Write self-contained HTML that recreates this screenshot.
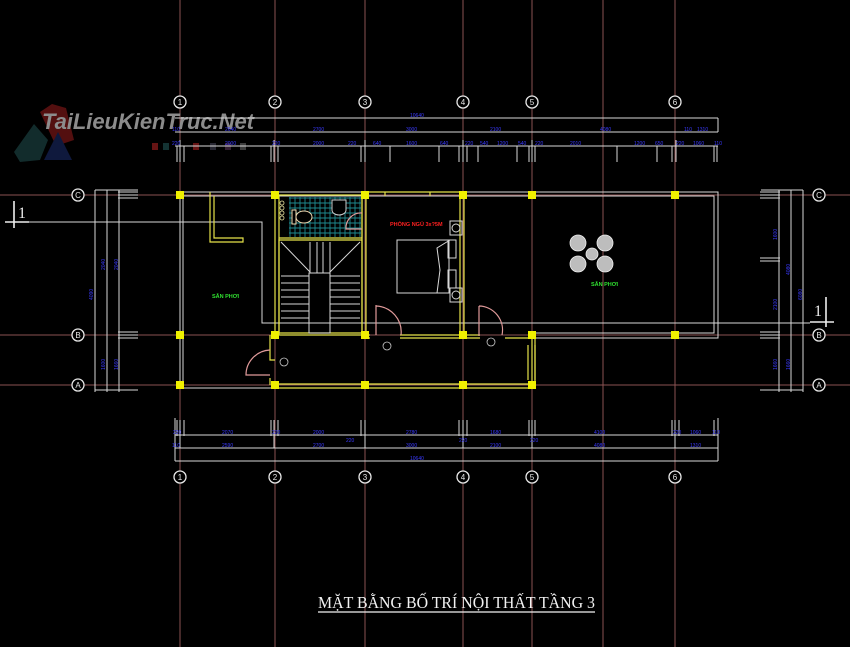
<!DOCTYPE html>
<html><head><meta charset="utf-8"><style>
html,body{margin:0;padding:0;background:#000;}
svg{display:block}
.g{stroke:#8a5252;stroke-width:1}
.w{stroke:#d8d8d8;stroke-width:1;fill:none}
.y{stroke:#e6e24a;stroke-width:1.2;fill:none}
.p{stroke:#e09a9a;stroke-width:1.2;fill:none}
.d{fill:#3a3aff;font-family:"Liberation Sans",sans-serif;font-size:5px}
.c{fill:#f0f000}
</style></head><body>
<svg width="850" height="647" viewBox="0 0 850 647" xmlns="http://www.w3.org/2000/svg">
<rect width="850" height="647" fill="#000"/>
<g class="g">
<line x1="180" y1="0" x2="180" y2="647"/><line x1="275" y1="0" x2="275" y2="647"/>
<line x1="365" y1="0" x2="365" y2="647"/><line x1="463" y1="0" x2="463" y2="647"/>
<line x1="532" y1="0" x2="532" y2="647"/><line x1="603" y1="0" x2="603" y2="647"/>
<line x1="675" y1="0" x2="675" y2="647"/>
<line x1="0" y1="195" x2="850" y2="195"/><line x1="0" y1="335" x2="850" y2="335"/>
<line x1="0" y1="385" x2="850" y2="385"/>
</g>
<g opacity="0.6">
<polygon points="40,112 52,104 66,108 74,140 56,146" fill="#8a1a1a"/>
<polygon points="14,152 34,124 48,140 40,160 20,162" fill="#1f4a4a"/>
<polygon points="44,160 58,132 72,160" fill="#1a2a66"/>
</g>
<text x="42" y="129" font-family="Liberation Sans,sans-serif" font-weight="bold" font-style="italic" font-size="22" fill="#8c8c8c" textLength="212">TaiLieuKienTruc.Net</text>
<g opacity="0.6"><rect x="152" y="143" width="6" height="7" fill="#a22"/><rect x="163" y="143" width="6" height="7" fill="#255"/><rect x="193" y="143" width="6" height="7" fill="#a22"/><rect x="210" y="143" width="6" height="7" fill="#445"/><rect x="225" y="143" width="6" height="7" fill="#535"/><rect x="240" y="143" width="6" height="7" fill="#666"/></g>
<g class="w">
<line x1="175" y1="118" x2="718" y2="118"/><line x1="718" y1="118" x2="718" y2="132"/>
<line x1="175" y1="132" x2="718" y2="132"/><line x1="175" y1="146" x2="718" y2="146"/>
<path d="M177 146v16M180 140v22M184 146v16M271 146v16M274 140v22M278 146v16M361 146v16M365 140v22M390 146v16M439 146v16M459 146v16M463 140v22M467 146v16M478 146v16M517 146v16M529 146v16M532 140v22M535 146v16M617 146v16M657 146v16M672 146v16M676 140v22M714 146v16M717 146v16"/>
</g>
<g class="d">
<text x="410" y="117">10640</text>
<text x="172" y="131">110</text><text x="225" y="131">2640</text><text x="313" y="131">2700</text><text x="406" y="131">3000</text><text x="490" y="131">2100</text><text x="600" y="131">4080</text><text x="684" y="131">110</text><text x="697" y="131">1310</text>
<text x="172" y="145">220</text><text x="225" y="145">2000</text><text x="272" y="145">220</text><text x="313" y="145">2000</text><text x="348" y="145">220</text><text x="373" y="145">640</text><text x="406" y="145">1600</text><text x="440" y="145">640</text><text x="465" y="145">220</text><text x="480" y="145">540</text><text x="497" y="145">1200</text><text x="518" y="145">540</text><text x="535" y="145">220</text><text x="570" y="145">2010</text><text x="634" y="145">1200</text><text x="655" y="145">650</text><text x="676" y="145">220</text><text x="693" y="145">1060</text><text x="714" y="145">110</text>
</g>
<g class="w">
<line x1="175" y1="435" x2="718" y2="435"/><line x1="175" y1="448" x2="718" y2="448"/><line x1="175" y1="461" x2="718" y2="461"/>
<line x1="175" y1="418" x2="175" y2="461"/><line x1="718" y1="418" x2="718" y2="461"/>
<path d="M177 420v16M180 420v28M184 420v16M271 420v16M274 420v28M278 420v16M361 420v16M365 420v28M459 420v16M463 420v28M467 420v16M529 420v16M532 420v28M535 420v16M672 420v16M675 420v28M679 420v16M714 420v16"/>
</g>
<g class="d">
<text x="173" y="434">220</text><text x="222" y="434">2070</text><text x="272" y="434">220</text><text x="313" y="434">2000</text><text x="406" y="434">2780</text><text x="490" y="434">1680</text><text x="594" y="434">4100</text><text x="673" y="434">220</text><text x="690" y="434">1060</text><text x="712" y="434">110</text>
<text x="346" y="442">220</text><text x="459" y="442">220</text><text x="530" y="442">220</text>
<text x="172" y="447">110</text><text x="222" y="447">2590</text><text x="313" y="447">2700</text><text x="406" y="447">3000</text><text x="490" y="447">2100</text><text x="594" y="447">4080</text><text x="690" y="447">1310</text>
<text x="410" y="460">10640</text>
</g>
<g class="w">
<line x1="95" y1="190" x2="95" y2="392"/><line x1="107" y1="190" x2="107" y2="392"/><line x1="119" y1="190" x2="119" y2="392"/>
<line x1="95" y1="190" x2="138" y2="190"/>
<path d="M118 192h20M118 195h20M118 198h20M118 332h20M118 335h20M118 338h20M95 390h43"/>
<line x1="761" y1="190" x2="803" y2="190"/><line x1="779" y1="190" x2="779" y2="392"/><line x1="791" y1="190" x2="791" y2="392"/><line x1="803" y1="190" x2="803" y2="392"/>
<path d="M760 192h20M760 195h20M760 198h20M760 258h20M760 261h20M760 332h20M760 335h20M760 338h20M760 390h43"/>
</g>
<g class="d">
<text transform="translate(105,270) rotate(-90)">2040</text><text transform="translate(118,270) rotate(-90)">2040</text><text transform="translate(93,300) rotate(-90)">4090</text>
<text transform="translate(105,370) rotate(-90)">1600</text><text transform="translate(118,370) rotate(-90)">1660</text>
<text transform="translate(777,240) rotate(-90)">1600</text><text transform="translate(777,310) rotate(-90)">2100</text><text transform="translate(790,275) rotate(-90)">4080</text><text transform="translate(802,300) rotate(-90)">6080</text>
<text transform="translate(777,370) rotate(-90)">1660</text><text transform="translate(790,370) rotate(-90)">1660</text>
</g>
<g fill="#000" stroke="#e8e8e8" stroke-width="1.3">
<circle cx="180" cy="102" r="6"/><circle cx="275" cy="102" r="6"/><circle cx="365" cy="102" r="6"/><circle cx="463" cy="102" r="6"/><circle cx="532" cy="102" r="6"/><circle cx="675" cy="102" r="6"/>
<circle cx="180" cy="477" r="6"/><circle cx="275" cy="477" r="6"/><circle cx="365" cy="477" r="6"/><circle cx="463" cy="477" r="6"/><circle cx="532" cy="477" r="6"/><circle cx="675" cy="477" r="6"/>
<circle cx="78" cy="195" r="6"/><circle cx="78" cy="335" r="6"/><circle cx="78" cy="385" r="6"/>
<circle cx="819" cy="195" r="6"/><circle cx="819" cy="335" r="6"/><circle cx="819" cy="385" r="6"/>
</g>
<g fill="#e8e8e8" font-family="Liberation Sans,sans-serif" font-size="8" text-anchor="middle">
<text x="180" y="105">1</text><text x="275" y="105">2</text><text x="365" y="105">3</text><text x="463" y="105">4</text><text x="532" y="105">5</text><text x="675" y="105">6</text>
<text x="180" y="480">1</text><text x="275" y="480">2</text><text x="365" y="480">3</text><text x="463" y="480">4</text><text x="532" y="480">5</text><text x="675" y="480">6</text>
<text x="78" y="198">C</text><text x="78" y="338">B</text><text x="78" y="388">A</text>
<text x="819" y="198">C</text><text x="819" y="338">B</text><text x="819" y="388">A</text>
</g>
<g stroke="#eee" stroke-width="1.6" fill="none">
<path d="M14 201v27M5 222h24"/><path d="M826 297v30M810 322h24"/>
</g>
<text x="18" y="218" fill="#eee" font-family="Liberation Serif,serif" font-size="16">1</text>
<text x="814" y="316" fill="#eee" font-family="Liberation Serif,serif" font-size="16">1</text>
<path d="M29 222H262V323H810" class="w"/>
<g class="w">
<path d="M180 192H718V338H532"/><path d="M180 196H714V333H532"/>
<path d="M180 192V388H275"/><path d="M183 196V385"/>
</g>
<g class="y">
<path d="M210 192V242H243V238H214V196"/>
<path d="M275 196V335M279 196V335"/>
<path d="M279 195H362V238H279"/><path d="M362 195V335M366 195V335"/>
<path d="M279 240H362V333H279z"/>
<path d="M366 192H463M385 192V196M430 192V196"/>
<path d="M460 196V335M464 196V335"/>
<path d="M275 335H370M400 335H463M366 338H370M400 338H480M505 338H532"/>
<path d="M275 384H532V335M275 388H535V335"/>
<path d="M464 335H480"/>
<path d="M270 335V360H275M270 385V378"/>
<path d="M528 345v35M535 345v35"/>
</g>
<g stroke="#1f8a90" stroke-width="0.9">
<path d="M289 198h72M289 203h72M289 208h72M289 213h72M289 218h72M289 223h72M289 228h72M289 233h72"/>
<path d="M290 197v40M295 197v40M300 197v40M305 197v40M310 197v40M315 197v40M320 197v40M325 197v40M330 197v40M335 197v40M340 197v40M345 197v40M350 197v40M355 197v40M360 197v40"/>
</g>
<g fill="none" stroke="#e8e2a0" stroke-width="0.8"><circle cx="282" cy="203" r="2"/><circle cx="282" cy="208" r="2"/><circle cx="282" cy="213" r="2"/><circle cx="282" cy="218" r="2"/></g>
<ellipse cx="304" cy="217" rx="8" ry="6" fill="#000" stroke="#f0d8b0"/><rect x="292" y="210" width="4" height="14" fill="#000" stroke="#f0d8b0"/>
<path d="M332 200h14v10a7 5 0 0 1 -14 0z" fill="#000" stroke="#ccc"/>
<g class="w">
<path d="M281 242L310 272M360 242L330 272M310 242V273M317 242V273M323 242V273M330 242V273"/>
<rect x="309" y="273" width="21" height="60"/>
<path d="M281 276h28M281 283h28M281 290h28M281 297h28M281 304h28M281 311h28M281 318h28M330 276h30M330 283h30M330 290h30M330 297h30M330 304h30M330 311h30M330 318h30"/>
</g>
<g class="p">
<path d="M362 213a15 15 0 0 0 -16 16h16"/>
<path d="M270 350a25 25 0 0 0 -24 25h24"/>
<path d="M376 305v30M376 306a26 26 0 0 1 25 29"/>
<path d="M479 306v30M479 306a24 24 0 0 1 23 29"/>
</g>
<g fill="none" stroke="#ccc" stroke-width="0.8"><circle cx="284" cy="362" r="4"/><circle cx="387" cy="346" r="4"/><circle cx="491" cy="342" r="4"/></g>
<g class="w">
<rect x="397" y="240" width="52" height="53"/><path d="M450 240l-13 8 3 22-3 23"/>
<rect x="450" y="221" width="12" height="14"/><rect x="450" y="288" width="12" height="14"/>
<rect x="448" y="240" width="8" height="18"/><rect x="448" y="270" width="8" height="18"/>
<circle cx="456" cy="228" r="4"/><circle cx="456" cy="295" r="4"/>
</g>
<text x="390" y="226" fill="#ff2020" font-family="Liberation Sans,sans-serif" font-size="5.5" font-weight="bold">PHÒNG NGỦ 3x?5M</text>
<g fill="#bdbdbd" stroke="#eee" stroke-width="0.8">
<circle cx="578" cy="243" r="8"/><circle cx="605" cy="243" r="8"/><circle cx="578" cy="264" r="8"/><circle cx="605" cy="264" r="8"/><circle cx="592" cy="254" r="6"/>
</g>
<g fill="#30e030" font-family="Liberation Sans,sans-serif" font-size="5.5" font-weight="bold">
<text x="591" y="286">SÂN PHƠI</text><text x="212" y="298">SÂN PHƠI</text>
</g>
<g class="c">
<rect x="176" y="191" width="8" height="8"/><rect x="271" y="191" width="8" height="8"/><rect x="361" y="191" width="8" height="8"/><rect x="459" y="191" width="8" height="8"/><rect x="528" y="191" width="8" height="8"/><rect x="671" y="191" width="8" height="8"/>
<rect x="176" y="331" width="8" height="8"/><rect x="271" y="331" width="8" height="8"/><rect x="361" y="331" width="8" height="8"/><rect x="459" y="331" width="8" height="8"/><rect x="528" y="331" width="8" height="8"/><rect x="671" y="331" width="8" height="8"/>
<rect x="176" y="381" width="8" height="8"/><rect x="271" y="381" width="8" height="8"/><rect x="361" y="381" width="8" height="8"/><rect x="459" y="381" width="8" height="8"/><rect x="528" y="381" width="8" height="8"/>
</g>
<text x="318" y="608" fill="#f2f2f2" font-family="Liberation Serif,serif" font-size="17" textLength="277" lengthAdjust="spacingAndGlyphs">MẶT BẰNG BỐ TRÍ NỘI THẤT TẦNG 3</text>
<line x1="318" y1="612" x2="595" y2="612" stroke="#f2f2f2" stroke-width="1.2"/>
</svg>
</body></html>
